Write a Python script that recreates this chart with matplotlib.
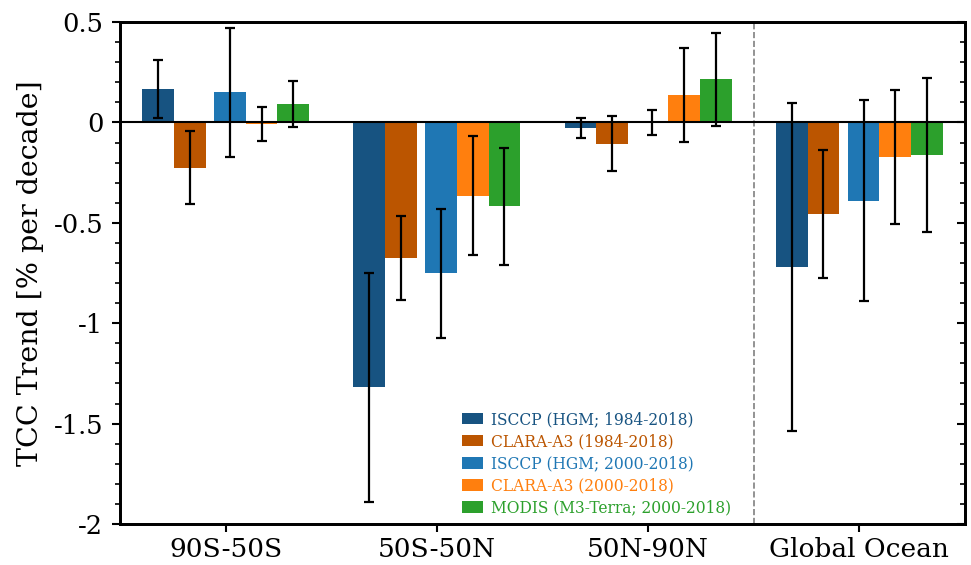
import matplotlib
matplotlib.use("Agg")
import matplotlib.pyplot as plt
import numpy as np
from matplotlib.ticker import MultipleLocator, FuncFormatter

plt.rcParams['font.family'] = ['DejaVu Serif']

regions = ["90S-50S", "50S-50N", "50N-90N", "Global Ocean"]
series_names = ["ISCCP (HGM; 1984-2018)", "CLARA-A3 (1984-2018)",
                "ISCCP (HGM; 2000-2018)", "CLARA-A3 (2000-2018)",
                "MODIS (M3-Terra; 2000-2018)"]
colors = ["#175381", "#bb5500", "#1f77b4", "#ff7f0e", "#2ca02c"]

isccp_84 = [0.165, -1.32, -0.028, -0.72]
isccp_84_err = [0.145, 0.57, 0.048, 0.815]
clara_84 = [-0.225, -0.675, -0.105, -0.455]
clara_84_err = [0.18, 0.21, 0.137, 0.318]
isccp_00 = [0.15, -0.752, -0.002, -0.39]
isccp_00_err = [0.32, 0.32, 0.062, 0.50]
clara_00 = [-0.008, -0.365, 0.137, -0.173]
clara_00_err = [0.085, 0.297, 0.234, 0.334]
modis_00 = [0.09, -0.418, 0.215, -0.163]
modis_00_err = [0.115, 0.29, 0.232, 0.383]

values = [isccp_84, clara_84, isccp_00, clara_00, modis_00]
errors = [isccp_84_err, clara_84_err, isccp_00_err, clara_00_err, modis_00_err]

fig = plt.figure(figsize=(9.71, 5.65), dpi=100)
ax = fig.add_axes([0.1236, 0.0726, 0.8702, 0.8884])

w = 0.15
g = 0.04
total = 5 * w + g
offsets = []
for i in range(5):
    left = -total / 2 + i * w + (g if i >= 2 else 0)
    offsets.append(left + w / 2)

x = np.arange(len(regions))
for i in range(5):
    ax.bar(x + offsets[i], values[i], width=w, color=colors[i],
           label=series_names[i], zorder=2)
    ax.errorbar(x + offsets[i], values[i], yerr=errors[i], fmt='none',
                ecolor='black', elinewidth=1.6, capsize=3.8, capthick=1.6, zorder=4)

ax.axhline(0, color='black', lw=1.5, zorder=3)
ax.axvline(2.5, color='gray', lw=1.2, ls='--', zorder=1)

ax.set_xlim(-0.5, 3.5)
ax.set_ylim(-2, 0.5)
ax.set_xticks(x)
ax.set_xticklabels(regions, fontsize=19)
ax.yaxis.set_major_locator(MultipleLocator(0.5))
ax.yaxis.set_minor_locator(MultipleLocator(0.1))

def fmt(v, pos):
    if abs(v) < 1e-9:
        return "0"
    return ("%g" % v).replace("\u2212", "-")
ax.yaxis.set_major_formatter(FuncFormatter(fmt))
ax.tick_params(axis='y', which='major', labelsize=18.5, length=6, width=1.5,
               direction='out', pad=6)
ax.tick_params(axis='y', which='minor', length=3.5, width=1.2, direction='out')
ax.tick_params(axis='x', which='major', length=6, width=1.5, direction='out', pad=3.5)
ax.set_ylabel("TCC Trend [% per decade]", fontsize=20.5, labelpad=7)

# right-hand ticks pointing inward
axr = ax.twinx()
axr.set_ylim(-2, 0.5)
axr.yaxis.set_major_locator(MultipleLocator(0.5))
axr.yaxis.set_minor_locator(MultipleLocator(0.1))
axr.tick_params(axis='y', which='major', length=6, width=1.5, direction='in',
                labelright=False)
axr.tick_params(axis='y', which='minor', length=3.5, width=1.2, direction='in')

for a in (ax, axr):
    for s in a.spines.values():
        s.set_linewidth(2)

leg = ax.legend(loc='upper left', bbox_to_anchor=(0.405, 0.225), frameon=False,
                fontsize=11.2, borderaxespad=0, borderpad=0, handlelength=1.35,
                handleheight=0.75, handletextpad=0.5, labelspacing=0.33)
for t, c in zip(leg.get_texts(), colors):
    t.set_color(c)

fig.savefig("out.png", dpi=100)
